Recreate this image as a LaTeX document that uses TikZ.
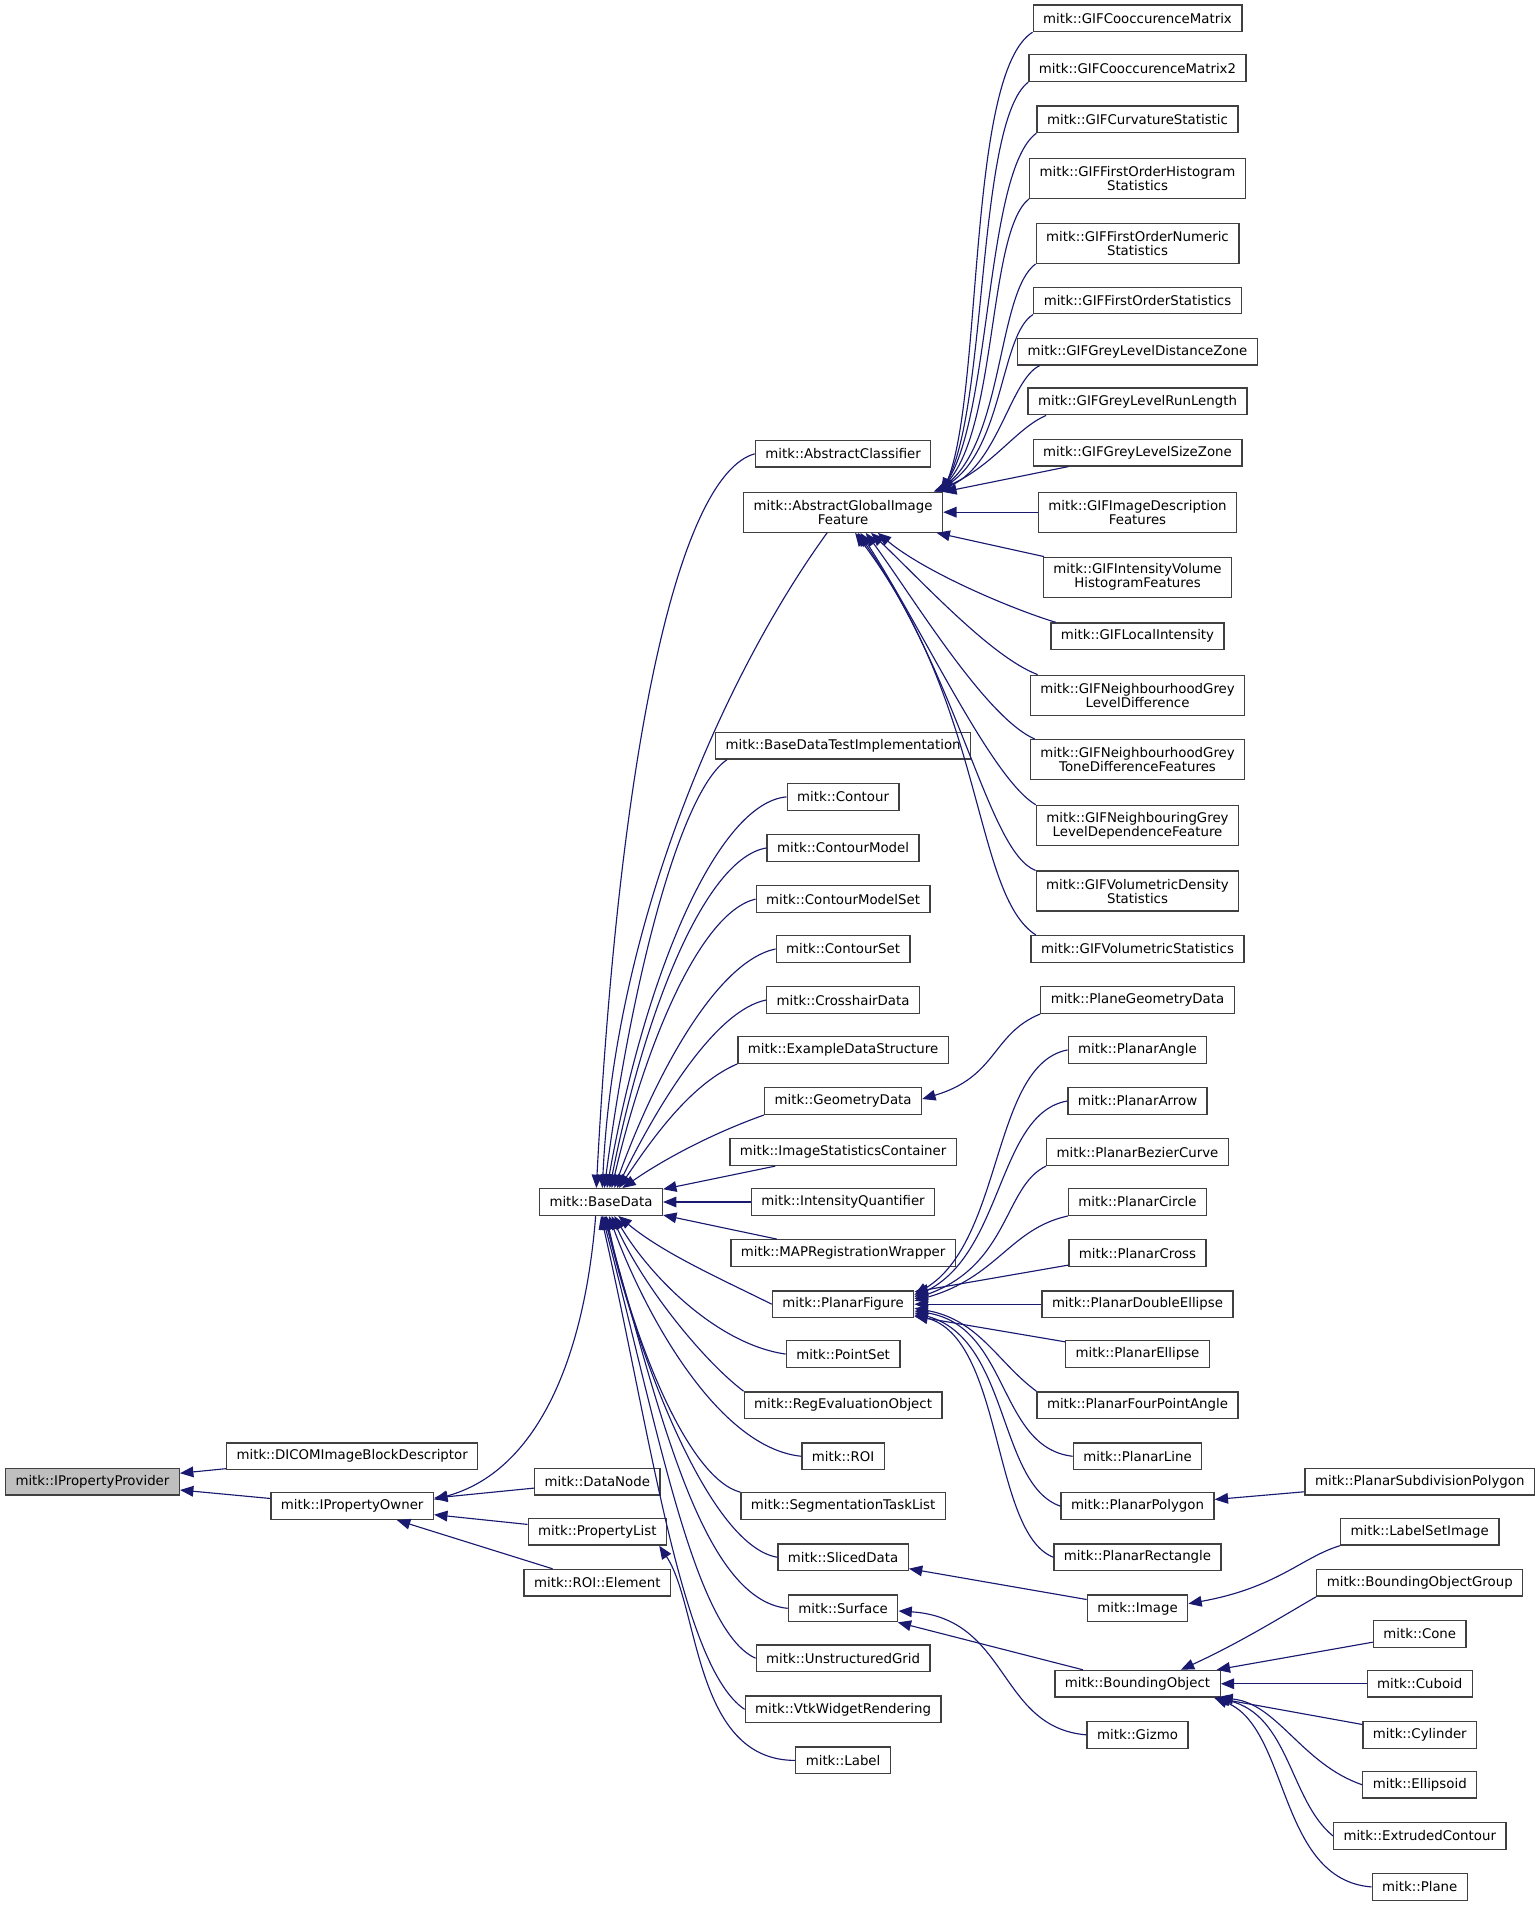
\documentclass[tikz,border=0pt]{standalone}
\usepackage{fontspec}
\setmainfont{DejaVu Sans}
\usetikzlibrary{arrows.meta}
\definecolor{edgeblue}{HTML}{191970}
\definecolor{rootgrey}{HTML}{BFBFBF}
\newcommand{\classfont}{\fontsize{10}{10.5}\selectfont}
\tikzset{
  classbox/.style={draw=black!75, line width=1pt, fill=white, inner xsep=7.5pt, inner ysep=1pt, minimum height=20pt, align=center, font=\classfont},
  classboxtwo/.style={classbox, minimum height=30pt},
  rootbox/.style={classbox, fill=rootgrey},
  inherit/.style={draw=edgeblue, line width=0.85pt, -{Triangle[length=10pt,width=8pt]}}
}
\begin{document}
\begin{tikzpicture}[x=0.9125pt,y=-0.9125pt]
            \useasboundingbox (0,0) rectangle (1265.000000,1567.500000);

            % Drawing node IPropertyProvider
            \node [rootbox] (IPropertyProvider) at (76.000000,1218.000000) {mitk::IPropertyProvider};%

            % Drawing node DICOMImageBlockDescriptor
            \node [classbox] (DICOMImageBlockDescriptor) at (289.500000,1197.000000) {mitk::DICOMImageBlockDescriptor};%

            % Drawing node IPropertyOwner
            \node [classbox] (IPropertyOwner) at (289.500000,1238.000000) {mitk::IPropertyOwner};%

            % Drawing node BaseData
            \node [classbox] (BaseData) at (494.000000,988.000000) {mitk::BaseData};%

            % Drawing node DataNode
            \node [classbox] (DataNode) at (491.000000,1218.000000) {mitk::DataNode};%

            % Drawing node PropertyList
            \node [classbox] (PropertyList) at (491.000000,1259.000000) {mitk::PropertyList};%

            % Drawing node ROIElement
            \node [classbox] (ROIElement) at (491.000000,1301.000000) {mitk::ROI::Element};%

            % Drawing node AbstractClassifier
            \node [classbox] (AbstractClassifier) at (693.000000,373.000000) {mitk::AbstractClassifier};%

            % Drawing node AbstractGlobalImageFeature
            \node [classboxtwo] (AbstractGlobalImageFeature) at (693.000000,421.000000) {mitk::AbstractGlobalImage\\Feature};%

            % Drawing node BaseDataTestImplementation
            \node [classbox] (BaseDataTestImplementation) at (693.000000,613.000000) {mitk::BaseDataTestImplementation};%

            % Drawing node Contour
            \node [classbox] (Contour) at (693.000000,655.000000) {mitk::Contour};%

            % Drawing node ContourModel
            \node [classbox] (ContourModel) at (693.000000,697.000000) {mitk::ContourModel};%

            % Drawing node ContourModelSet
            \node [classbox] (ContourModelSet) at (693.000000,739.000000) {mitk::ContourModelSet};%

            % Drawing node ContourSet
            \node [classbox] (ContourSet) at (693.000000,780.000000) {mitk::ContourSet};%

            % Drawing node CrosshairData
            \node [classbox] (CrosshairData) at (693.000000,822.000000) {mitk::CrosshairData};%

            % Drawing node ExampleDataStructure
            \node [classbox] (ExampleDataStructure) at (693.000000,863.000000) {mitk::ExampleDataStructure};%

            % Drawing node GeometryData
            \node [classbox] (GeometryData) at (693.000000,905.000000) {mitk::GeometryData};%

            % Drawing node ImageStatisticsContainer
            \node [classbox] (ImageStatisticsContainer) at (693.000000,947.000000) {mitk::ImageStatisticsContainer};%

            % Drawing node IntensityQuantifier
            \node [classbox] (IntensityQuantifier) at (693.000000,988.000000) {mitk::IntensityQuantifier};%

            % Drawing node MAPRegistrationWrapper
            \node [classbox] (MAPRegistrationWrapper) at (693.000000,1030.000000) {mitk::MAPRegistrationWrapper};%

            % Drawing node PlanarFigure
            \node [classbox] (PlanarFigure) at (693.000000,1072.000000) {mitk::PlanarFigure};%

            % Drawing node PointSet
            \node [classbox] (PointSet) at (693.000000,1113.000000) {mitk::PointSet};%

            % Drawing node RegEvaluationObject
            \node [classbox] (RegEvaluationObject) at (693.000000,1155.000000) {mitk::RegEvaluationObject};%

            % Drawing node ROI
            \node [classbox] (ROI) at (693.000000,1197.000000) {mitk::ROI};%

            % Drawing node SegmentationTaskList
            \node [classbox] (SegmentationTaskList) at (693.000000,1238.000000) {mitk::SegmentationTaskList};%

            % Drawing node SlicedData
            \node [classbox] (SlicedData) at (693.000000,1280.000000) {mitk::SlicedData};%

            % Drawing node Surface
            \node [classbox] (Surface) at (693.000000,1322.000000) {mitk::Surface};%

            % Drawing node UnstructuredGrid
            \node [classbox] (UnstructuredGrid) at (693.000000,1363.000000) {mitk::UnstructuredGrid};%

            % Drawing node VtkWidgetRendering
            \node [classbox] (VtkWidgetRendering) at (693.000000,1405.000000) {mitk::VtkWidgetRendering};%

            % Drawing node Label
            \node [classbox] (Label) at (693.000000,1447.000000) {mitk::Label};%

            % Drawing node GIFCooccurenceMatrix
            \node [classbox] (GIFCooccurenceMatrix) at (935.000000,15.000000) {mitk::GIFCooccurenceMatrix};%

            % Drawing node GIFCooccurenceMatrix2
            \node [classbox] (GIFCooccurenceMatrix2) at (935.000000,56.000000) {mitk::GIFCooccurenceMatrix2};%

            % Drawing node GIFCurvatureStatistic
            \node [classbox] (GIFCurvatureStatistic) at (935.000000,98.000000) {mitk::GIFCurvatureStatistic};%

            % Drawing node GIFFirstOrderHistogramStatistics
            \node [classboxtwo] (GIFFirstOrderHistogramStatistics) at (935.000000,146.500000) {mitk::GIFFirstOrderHistogram\\Statistics};%

            % Drawing node GIFFirstOrderNumericStatistics
            \node [classboxtwo] (GIFFirstOrderNumericStatistics) at (935.000000,200.000000) {mitk::GIFFirstOrderNumeric\\Statistics};%

            % Drawing node GIFFirstOrderStatistics
            \node [classbox] (GIFFirstOrderStatistics) at (935.000000,247.000000) {mitk::GIFFirstOrderStatistics};%

            % Drawing node GIFGreyLevelDistanceZone
            \node [classbox] (GIFGreyLevelDistanceZone) at (935.000000,289.000000) {mitk::GIFGreyLevelDistanceZone};%

            % Drawing node GIFGreyLevelRunLength
            \node [classbox] (GIFGreyLevelRunLength) at (935.000000,330.000000) {mitk::GIFGreyLevelRunLength};%

            % Drawing node GIFGreyLevelSizeZone
            \node [classbox] (GIFGreyLevelSizeZone) at (935.000000,372.000000) {mitk::GIFGreyLevelSizeZone};%

            % Drawing node GIFImageDescriptionFeatures
            \node [classboxtwo] (GIFImageDescriptionFeatures) at (935.000000,421.000000) {mitk::GIFImageDescription\\Features};%

            % Drawing node GIFIntensityVolumeHistogramFeatures
            \node [classboxtwo] (GIFIntensityVolumeHistogramFeatures) at (935.000000,474.500000) {mitk::GIFIntensityVolume\\HistogramFeatures};%

            % Drawing node GIFLocalIntensity
            \node [classbox] (GIFLocalIntensity) at (935.000000,523.000000) {mitk::GIFLocalIntensity};%

            % Drawing node GIFNeighbourhoodGreyLevelDifference
            \node [classboxtwo] (GIFNeighbourhoodGreyLevelDifference) at (935.000000,571.500000) {mitk::GIFNeighbourhoodGrey\\LevelDifference};%

            % Drawing node GIFNeighbourhoodGreyToneDifferenceFeatures
            \node [classboxtwo] (GIFNeighbourhoodGreyToneDifferenceFeatures) at (935.000000,624.500000) {mitk::GIFNeighbourhoodGrey\\ToneDifferenceFeatures};%

            % Drawing node GIFNeighbouringGreyLevelDependenceFeature
            \node [classboxtwo] (GIFNeighbouringGreyLevelDependenceFeature) at (935.000000,678.500000) {mitk::GIFNeighbouringGrey\\LevelDependenceFeature};%

            % Drawing node GIFVolumetricDensityStatistics
            \node [classboxtwo] (GIFVolumetricDensityStatistics) at (935.000000,732.500000) {mitk::GIFVolumetricDensity\\Statistics};%

            % Drawing node GIFVolumetricStatistics
            \node [classbox] (GIFVolumetricStatistics) at (935.000000,780.000000) {mitk::GIFVolumetricStatistics};%

            % Drawing node PlaneGeometryData
            \node [classbox] (PlaneGeometryData) at (935.000000,822.000000) {mitk::PlaneGeometryData};%

            % Drawing node PlanarAngle
            \node [classbox] (PlanarAngle) at (935.000000,863.000000) {mitk::PlanarAngle};%

            % Drawing node PlanarArrow
            \node [classbox] (PlanarArrow) at (935.000000,905.000000) {mitk::PlanarArrow};%

            % Drawing node PlanarBezierCurve
            \node [classbox] (PlanarBezierCurve) at (935.000000,947.000000) {mitk::PlanarBezierCurve};%

            % Drawing node PlanarCircle
            \node [classbox] (PlanarCircle) at (935.000000,988.000000) {mitk::PlanarCircle};%

            % Drawing node PlanarCross
            \node [classbox] (PlanarCross) at (935.000000,1030.000000) {mitk::PlanarCross};%

            % Drawing node PlanarDoubleEllipse
            \node [classbox] (PlanarDoubleEllipse) at (935.000000,1072.000000) {mitk::PlanarDoubleEllipse};%

            % Drawing node PlanarEllipse
            \node [classbox] (PlanarEllipse) at (935.000000,1113.000000) {mitk::PlanarEllipse};%

            % Drawing node PlanarFourPointAngle
            \node [classbox] (PlanarFourPointAngle) at (935.000000,1155.000000) {mitk::PlanarFourPointAngle};%

            % Drawing node PlanarLine
            \node [classbox] (PlanarLine) at (935.000000,1197.000000) {mitk::PlanarLine};%

            % Drawing node PlanarPolygon
            \node [classbox] (PlanarPolygon) at (935.000000,1238.000000) {mitk::PlanarPolygon};%

            % Drawing node PlanarRectangle
            \node [classbox] (PlanarRectangle) at (935.000000,1280.000000) {mitk::PlanarRectangle};%

            % Drawing node Image
            \node [classbox] (Image) at (935.000000,1322.000000) {mitk::Image};%

            % Drawing node BoundingObject
            \node [classbox] (BoundingObject) at (935.000000,1384.000000) {mitk::BoundingObject};%

            % Drawing node Gizmo
            \node [classbox] (Gizmo) at (935.000000,1426.000000) {mitk::Gizmo};%

            % Drawing node PlanarSubdivisionPolygon
            \node [classbox] (PlanarSubdivisionPolygon) at (1167.000000,1218.000000) {mitk::PlanarSubdivisionPolygon};%

            % Drawing node LabelSetImage
            \node [classbox] (LabelSetImage) at (1167.000000,1259.000000) {mitk::LabelSetImage};%

            % Drawing node BoundingObjectGroup
            \node [classbox] (BoundingObjectGroup) at (1167.000000,1301.000000) {mitk::BoundingObjectGroup};%

            % Drawing node Cone
            \node [classbox] (Cone) at (1167.000000,1343.000000) {mitk::Cone};%

            % Drawing node Cuboid
            \node [classbox] (Cuboid) at (1167.000000,1384.000000) {mitk::Cuboid};%

            % Drawing node Cylinder
            \node [classbox] (Cylinder) at (1167.000000,1426.000000) {mitk::Cylinder};%

            % Drawing node Ellipsoid
            \node [classbox] (Ellipsoid) at (1167.000000,1467.000000) {mitk::Ellipsoid};%

            % Drawing node ExtrudedContour
            \node [classbox] (ExtrudedContour) at (1167.000000,1509.000000) {mitk::ExtrudedContour};%

            % Drawing node Plane
            \node [classbox] (Plane) at (1167.000000,1551.000000) {mitk::Plane};%

            % Drawing edge DICOMImageBlockDescriptor IPropertyProvider
            \draw [inherit] (DICOMImageBlockDescriptor) -- (IPropertyProvider);%

            % Drawing edge IPropertyOwner IPropertyProvider
            \draw [inherit] (IPropertyOwner) -- (IPropertyProvider);%

            % Drawing edge DataNode IPropertyOwner
            \draw [inherit] (DataNode) -- (IPropertyOwner);%

            % Drawing edge PropertyList IPropertyOwner
            \draw [inherit] (PropertyList) -- (IPropertyOwner);%

            % Drawing edge ROIElement IPropertyOwner
            \draw [inherit] (ROIElement) -- (IPropertyOwner);%

            % Drawing edge BaseData IPropertyOwner
            \draw [inherit] ([xshift=-4pt]BaseData.south) .. controls (480.000000,1120.000000) and (440.000000,1210.000000) .. ([yshift=5pt]IPropertyOwner.east);%

            % Drawing edge Label PropertyList
            \draw [inherit] (Label.west) .. controls (570.000000,1447.000000) and (575.000000,1320.000000) .. ([xshift=-6pt]PropertyList.south east);%

            % Drawing edge AbstractClassifier BaseData
            \draw [inherit] (AbstractClassifier.west) .. controls (560.000000,390.000000) and (510.000000,600.000000) .. ([xshift=-3.5pt]BaseData.north);%

            % Drawing edge AbstractGlobalImageFeature BaseData
            \draw [inherit] ([xshift=-12pt]AbstractGlobalImageFeature.south) .. controls (595.000000,555.000000) and (505.000000,760.000000) .. ([xshift=1pt]BaseData.north);%

            % Drawing edge BaseDataTestImplementation BaseData
            \draw [inherit] ([xshift=9pt]BaseDataTestImplementation.south west) .. controls (560.000000,650.000000) and (520.000000,800.000000) .. ([xshift=2.5pt]BaseData.north);%

            % Drawing edge Contour BaseData
            \draw [inherit] (Contour.west) .. controls (590.000000,660.000000) and (530.000000,800.000000) .. ([xshift=4.5pt]BaseData.north);%

            % Drawing edge ContourModel BaseData
            \draw [inherit] (ContourModel.west) .. controls (580.000000,705.000000) and (530.000000,830.000000) .. ([xshift=6.5pt]BaseData.north);%

            % Drawing edge ContourModelSet BaseData
            \draw [inherit] (ContourModelSet.west) .. controls (575.000000,750.000000) and (530.000000,860.000000) .. ([xshift=8pt]BaseData.north);%

            % Drawing edge ContourSet BaseData
            \draw [inherit] (ContourSet.west) .. controls (590.000000,790.000000) and (540.000000,880.000000) .. ([xshift=10pt]BaseData.north);%

            % Drawing edge CrosshairData BaseData
            \draw [inherit] (CrosshairData.west) .. controls (590.000000,830.000000) and (545.000000,900.000000) .. ([xshift=12pt]BaseData.north);%

            % Drawing edge ExampleDataStructure BaseData
            \draw [inherit] (ExampleDataStructure.south west) .. controls (570.000000,890.000000) and (540.000000,930.000000) .. ([xshift=13.5pt]BaseData.north);%

            % Drawing edge GeometryData BaseData
            \draw [inherit] (GeometryData.south west) .. controls (590.000000,930.000000) and (550.000000,950.000000) .. ([xshift=16pt]BaseData.north);%

            % Drawing edge ImageStatisticsContainer BaseData
            \draw [inherit] (ImageStatisticsContainer) -- (BaseData);%

            % Drawing edge IntensityQuantifier BaseData
            \draw [inherit] (IntensityQuantifier) -- (BaseData);%

            % Drawing edge MAPRegistrationWrapper BaseData
            \draw [inherit] (MAPRegistrationWrapper) -- (BaseData);%

            % Drawing edge PlanarFigure BaseData
            \draw [inherit] (PlanarFigure.west) .. controls (590.000000,1050.000000) and (545.000000,1030.000000) .. ([xshift=13pt]BaseData.south);%

            % Drawing edge PointSet BaseData
            \draw [inherit] (PointSet.west) .. controls (590.000000,1105.000000) and (535.000000,1050.000000) .. ([xshift=10pt]BaseData.south);%

            % Drawing edge RegEvaluationObject BaseData
            \draw [inherit] (RegEvaluationObject.north west) .. controls (580.000000,1120.000000) and (530.000000,1060.000000) .. ([xshift=8pt]BaseData.south);%

            % Drawing edge ROI BaseData
            \draw [inherit] (ROI.west) .. controls (590.000000,1190.000000) and (530.000000,1080.000000) .. ([xshift=6pt]BaseData.south);%

            % Drawing edge SegmentationTaskList BaseData
            \draw [inherit] (SegmentationTaskList.north west) .. controls (565.000000,1215.000000) and (520.000000,1100.000000) .. ([xshift=4pt]BaseData.south);%

            % Drawing edge SlicedData BaseData
            \draw [inherit] (SlicedData.west) .. controls (580.000000,1270.000000) and (520.000000,1100.000000) .. ([xshift=3pt]BaseData.south);%

            % Drawing edge Surface BaseData
            \draw [inherit] (Surface.west) .. controls (575.000000,1315.000000) and (540.000000,1150.000000) .. ([xshift=2pt]BaseData.south);%

            % Drawing edge UnstructuredGrid BaseData
            \draw [inherit] (UnstructuredGrid.west) .. controls (570.000000,1340.000000) and (540.000000,1170.000000) .. ([xshift=1pt]BaseData.south);%

            % Drawing edge VtkWidgetRendering BaseData
            \draw [inherit] (VtkWidgetRendering.west) .. controls (560.000000,1370.000000) and (535.000000,1180.000000) .. (BaseData.south);%

            % Drawing edge GIFCooccurenceMatrix AbstractGlobalImageFeature
            \draw [inherit] (GIFCooccurenceMatrix.south west) .. controls (795.000000,60.000000) and (808.000000,320.000000) .. (AbstractGlobalImageFeature.north east);%

            % Drawing edge GIFCooccurenceMatrix2 AbstractGlobalImageFeature
            \draw [inherit] (GIFCooccurenceMatrix2.south west) .. controls (803.000000,100.000000) and (812.000000,330.000000) .. ([xshift=-1pt]AbstractGlobalImageFeature.north east);%

            % Drawing edge GIFCurvatureStatistic AbstractGlobalImageFeature
            \draw [inherit] (GIFCurvatureStatistic.south west) .. controls (810.000000,140.000000) and (815.000000,340.000000) .. ([xshift=-2pt]AbstractGlobalImageFeature.north east);%

            % Drawing edge GIFFirstOrderHistogramStatistics AbstractGlobalImageFeature
            \draw [inherit] (GIFFirstOrderHistogramStatistics.south west) .. controls (812.000000,190.000000) and (820.000000,350.000000) .. ([xshift=-3pt]AbstractGlobalImageFeature.north east);%

            % Drawing edge GIFFirstOrderNumericStatistics AbstractGlobalImageFeature
            \draw [inherit] (GIFFirstOrderNumericStatistics.south west) .. controls (820.000000,240.000000) and (825.000000,360.000000) .. ([xshift=-4pt]AbstractGlobalImageFeature.north east);%

            % Drawing edge GIFFirstOrderStatistics AbstractGlobalImageFeature
            \draw [inherit] (GIFFirstOrderStatistics.south west) .. controls (822.000000,275.000000) and (825.000000,370.000000) .. ([xshift=-5pt]AbstractGlobalImageFeature.north east);%

            % Drawing edge GIFGreyLevelDistanceZone AbstractGlobalImageFeature
            \draw [inherit] ([xshift=17pt]GIFGreyLevelDistanceZone.south west) .. controls (830.000000,312.000000) and (820.000000,385.000000) .. ([xshift=-6pt]AbstractGlobalImageFeature.north east);%

            % Drawing edge GIFGreyLevelRunLength AbstractGlobalImageFeature
            \draw [inherit] ([xshift=14pt]GIFGreyLevelRunLength.south west) .. controls (835.000000,352.000000) and (815.000000,385.000000) .. ([xshift=-7pt]AbstractGlobalImageFeature.north east);%

            % Drawing edge GIFGreyLevelSizeZone AbstractGlobalImageFeature
            \draw [inherit] (GIFGreyLevelSizeZone) -- (AbstractGlobalImageFeature);%

            % Drawing edge GIFImageDescriptionFeatures AbstractGlobalImageFeature
            \draw [inherit] (GIFImageDescriptionFeatures) -- (AbstractGlobalImageFeature);%

            % Drawing edge GIFIntensityVolumeHistogramFeatures AbstractGlobalImageFeature
            \draw [inherit] (GIFIntensityVolumeHistogramFeatures) -- (AbstractGlobalImageFeature);%

            % Drawing edge GIFLocalIntensity AbstractGlobalImageFeature
            \draw [inherit] ([xshift=4pt]GIFLocalIntensity.north west) .. controls (830.000000,500.000000) and (760.000000,470.000000) .. ([xshift=26pt]AbstractGlobalImageFeature.south);%

            % Drawing edge GIFNeighbourhoodGreyLevelDifference AbstractGlobalImageFeature
            \draw [inherit] ([xshift=6pt]GIFNeighbourhoodGreyLevelDifference.north west) .. controls (815.000000,540.000000) and (760.000000,480.000000) .. ([xshift=21pt]AbstractGlobalImageFeature.south);%

            % Drawing edge GIFNeighbourhoodGreyToneDifferenceFeatures AbstractGlobalImageFeature
            \draw [inherit] ([xshift=4pt]GIFNeighbourhoodGreyToneDifferenceFeatures.north west) .. controls (810.000000,590.000000) and (750.000000,490.000000) .. ([xshift=17pt]AbstractGlobalImageFeature.south);%

            % Drawing edge GIFNeighbouringGreyLevelDependenceFeature AbstractGlobalImageFeature
            \draw [inherit] (GIFNeighbouringGreyLevelDependenceFeature.north west) .. controls (815.000000,640.000000) and (760.000000,520.000000) .. ([xshift=13pt]AbstractGlobalImageFeature.south);%

            % Drawing edge GIFVolumetricDensityStatistics AbstractGlobalImageFeature
            \draw [inherit] (GIFVolumetricDensityStatistics.north west) .. controls (812.000000,700.000000) and (790.000000,560.000000) .. ([xshift=11pt]AbstractGlobalImageFeature.south);%

            % Drawing edge GIFVolumetricStatistics AbstractGlobalImageFeature
            \draw [inherit] ([xshift=4pt]GIFVolumetricStatistics.north west) .. controls (800.000000,735.000000) and (810.000000,580.000000) .. ([xshift=9pt]AbstractGlobalImageFeature.south);%

            % Drawing edge PlaneGeometryData GeometryData
            \draw [inherit] (PlaneGeometryData.south west) .. controls (815.000000,850.000000) and (820.000000,885.000000) .. ([yshift=1.5pt]GeometryData.east);%

            % Drawing edge PlanarAngle PlanarFigure
            \draw [inherit] (PlanarAngle.west) .. controls (815.000000,875.000000) and (825.000000,1020.000000) .. ([yshift=7pt]PlanarFigure.east);%

            % Drawing edge PlanarArrow PlanarFigure
            \draw [inherit] (PlanarArrow.west) .. controls (820.000000,915.000000) and (825.000000,1030.000000) .. ([yshift=5.5pt]PlanarFigure.east);%

            % Drawing edge PlanarBezierCurve PlanarFigure
            \draw [inherit] (PlanarBezierCurve.south west) .. controls (825.000000,975.000000) and (830.000000,1040.000000) .. ([yshift=4pt]PlanarFigure.east);%

            % Drawing edge PlanarCircle PlanarFigure
            \draw [inherit] (PlanarCircle.south west) .. controls (830.000000,1010.000000) and (820.000000,1050.000000) .. ([yshift=2.5pt]PlanarFigure.east);%

            % Drawing edge PlanarCross PlanarFigure
            \draw [inherit] (PlanarCross) -- (PlanarFigure);%

            % Drawing edge PlanarDoubleEllipse PlanarFigure
            \draw [inherit] (PlanarDoubleEllipse) -- (PlanarFigure);%

            % Drawing edge PlanarEllipse PlanarFigure
            \draw [inherit] (PlanarEllipse) -- (PlanarFigure);%

            % Drawing edge PlanarFourPointAngle PlanarFigure
            \draw [inherit] (PlanarFourPointAngle.north west) .. controls (820.000000,1120.000000) and (805.000000,1085.000000) .. ([yshift=-3pt]PlanarFigure.east);%

            % Drawing edge PlanarLine PlanarFigure
            \draw [inherit] (PlanarLine.west) .. controls (820.000000,1190.000000) and (830.000000,1090.000000) .. ([yshift=-5pt]PlanarFigure.east);%

            % Drawing edge PlanarPolygon PlanarFigure
            \draw [inherit] (PlanarPolygon.west) .. controls (820.000000,1220.000000) and (830.000000,1100.000000) .. ([yshift=-6.5pt]PlanarFigure.east);%

            % Drawing edge PlanarRectangle PlanarFigure
            \draw [inherit] (PlanarRectangle.west) .. controls (815.000000,1260.000000) and (825.000000,1100.000000) .. ([yshift=-8pt]PlanarFigure.east);%

            % Drawing edge PlanarSubdivisionPolygon PlanarPolygon
            \draw [inherit] (PlanarSubdivisionPolygon) -- (PlanarPolygon);%

            % Drawing edge Image SlicedData
            \draw [inherit] (Image) -- (SlicedData);%

            % Drawing edge LabelSetImage Image
            \draw [inherit] (LabelSetImage.south west) .. controls (1070.000000,1280.000000) and (1050.000000,1305.000000) .. ([yshift=3.5pt]Image.east);%

            % Drawing edge BoundingObject Surface
            \draw [inherit] (BoundingObject) -- (Surface);%

            % Drawing edge Gizmo Surface
            \draw [inherit] (Gizmo.west) .. controls (820.000000,1420.000000) and (830.000000,1330.000000) .. ([yshift=-2pt]Surface.east);%

            % Drawing edge BoundingObjectGroup BoundingObject
            \draw [inherit] (BoundingObjectGroup.south west) .. controls (1060.000000,1325.000000) and (1020.000000,1350.000000) .. ([xshift=-30pt]BoundingObject.north east);%

            % Drawing edge Cone BoundingObject
            \draw [inherit] (Cone) -- (BoundingObject);%

            % Drawing edge Cuboid BoundingObject
            \draw [inherit] (Cuboid) -- (BoundingObject);%

            % Drawing edge Cylinder BoundingObject
            \draw [inherit] (Cylinder) -- (BoundingObject);%

            % Drawing edge Ellipsoid BoundingObject
            \draw [inherit] (Ellipsoid.west) .. controls (1070.000000,1450.000000) and (1050.000000,1400.000000) .. ([xshift=-1pt]BoundingObject.south east);%

            % Drawing edge ExtrudedContour BoundingObject
            \draw [inherit] (ExtrudedContour.west) .. controls (1060.000000,1480.000000) and (1060.000000,1410.000000) .. ([xshift=-3pt]BoundingObject.south east);%

            % Drawing edge Plane BoundingObject
            \draw [inherit] (Plane.west) .. controls (1050.000000,1545.000000) and (1060.000000,1420.000000) .. ([xshift=-5pt]BoundingObject.south east);%
\end{tikzpicture}
\end{document}
